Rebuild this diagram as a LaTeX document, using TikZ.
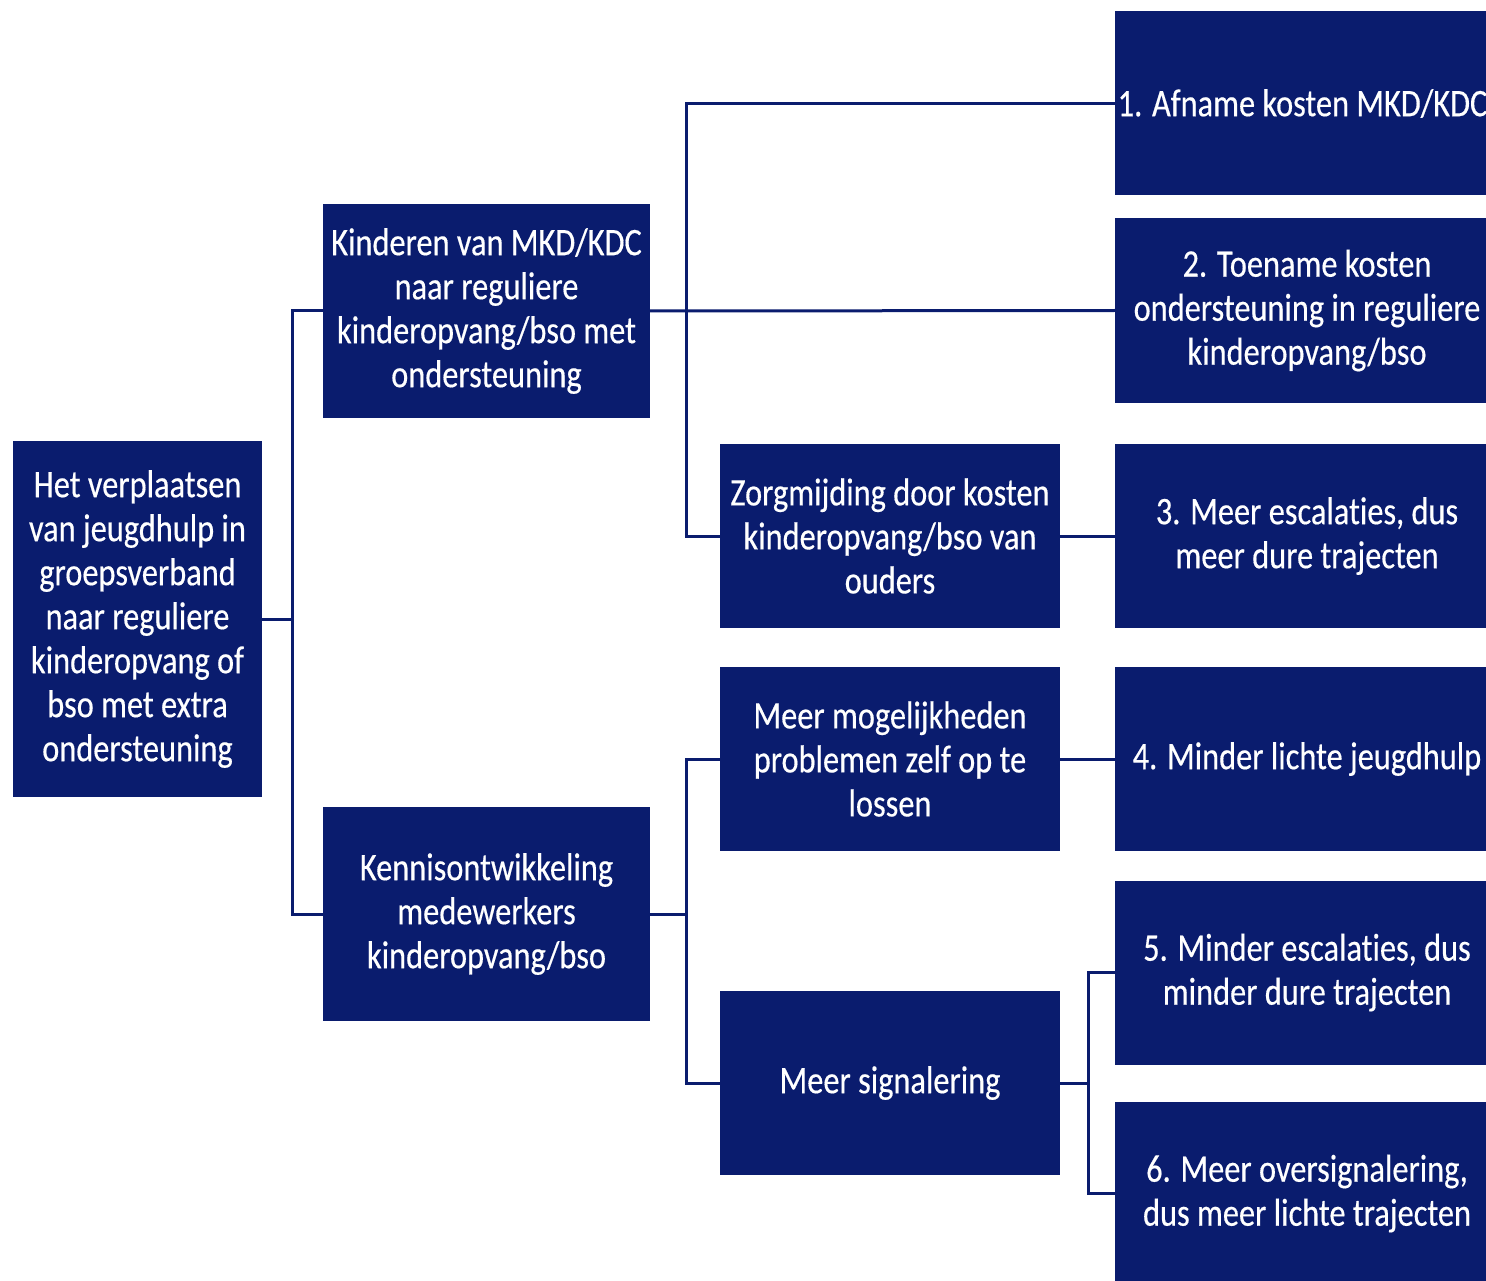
\documentclass[tikz,border=0pt]{standalone}
\usepackage{fontspec}
\setmainfont{Carlito}[FakeStretch=0.83,FakeBold=0.4,Ligatures=NoCommon]
\definecolor{navy}{HTML}{0A1C6E}
\begin{document}
\begin{tikzpicture}[x=1pt,y=-1pt,
  box/.style={fill=navy,draw=none,text=white,align=center,inner sep=0pt,
    font=\fontsize{39}{44}\selectfont},
  lbox/.style={box,minimum width=249pt,minimum height=356pt},
  kbox/.style={box,minimum width=327pt,minimum height=214pt},
  mbox/.style={box,minimum width=340pt,minimum height=184pt},
  rbox/.style={box,minimum width=384pt,minimum height=184pt},
  conn/.style={draw=navy,line width=3pt}]
\useasboundingbox (0,0) rectangle (1486,1281);
\clip (0,0) rectangle (1486,1281);
\node[lbox] (root) at (137.5,619) {Het verplaatsen\\van jeugdhulp in\\groepsverband\\naar reguliere\\kinderopvang of\\bso met extra\\ondersteuning};
\node[kbox] (kind) at (486.5,311) {Kinderen van MKD/KDC\\naar reguliere\\kinderopvang/bso met\\ondersteuning};
\node[kbox] (kennis) at (486.5,914) {Kennisontwikkeling\\medewerkers\\kinderopvang/bso};
\node[mbox] (zorg) at (890,536) {Zorgmijding door kosten\\kinderopvang/bso van\\ouders};
\node[mbox] (mog) at (890,759) {Meer mogelijkheden\\problemen zelf op te\\lossen};
\node[mbox] (sig) at (890,1083) {Meer signalering};
\node[rbox] (b1) at (1307,103.5) {1. Afname kosten MKD/KDC\hspace*{9pt}};
\node[rbox] (b2) at (1307,310.5) {2. Toename kosten\\ondersteuning in reguliere\\kinderopvang/bso};
\node[rbox] (b3) at (1307,536) {3. Meer escalaties, dus\\meer dure trajecten};
\node[rbox] (b4) at (1307,759) {4. Minder lichte jeugdhulp};
\node[rbox] (b5) at (1307,972.5) {5. Minder escalaties, dus\\minder dure trajecten};
\node[rbox] (b6) at (1307,1193.5) {6. Meer oversignalering,\\dus meer lichte trajecten};
\coordinate (j1) at (292,619);
\coordinate (j2) at (686,311);
\coordinate (j3) at (686,914);
\coordinate (j4) at (1088,1083);
\draw[conn] (root.east) -- (j1);
\draw[conn] (kind.west) -| (j1);
\draw[conn] (kennis.west) -| (j1);
\draw[conn] (kind.east) -- (b2.west);
\draw[conn] (b1.west) -| (j2);
\draw[conn] (zorg.west) -| (j2);
\draw[conn] (zorg.east) -- (b3.west);
\draw[conn] (kennis.east) -- (j3);
\draw[conn] (mog.west) -| (j3);
\draw[conn] (sig.west) -| (j3);
\draw[conn] (mog.east) -- (b4.west);
\draw[conn] (sig.east) -- (j4);
\draw[conn] (b5.west) -| (j4);
\draw[conn] (b6.west) -| (j4);
\end{tikzpicture}
\end{document}
